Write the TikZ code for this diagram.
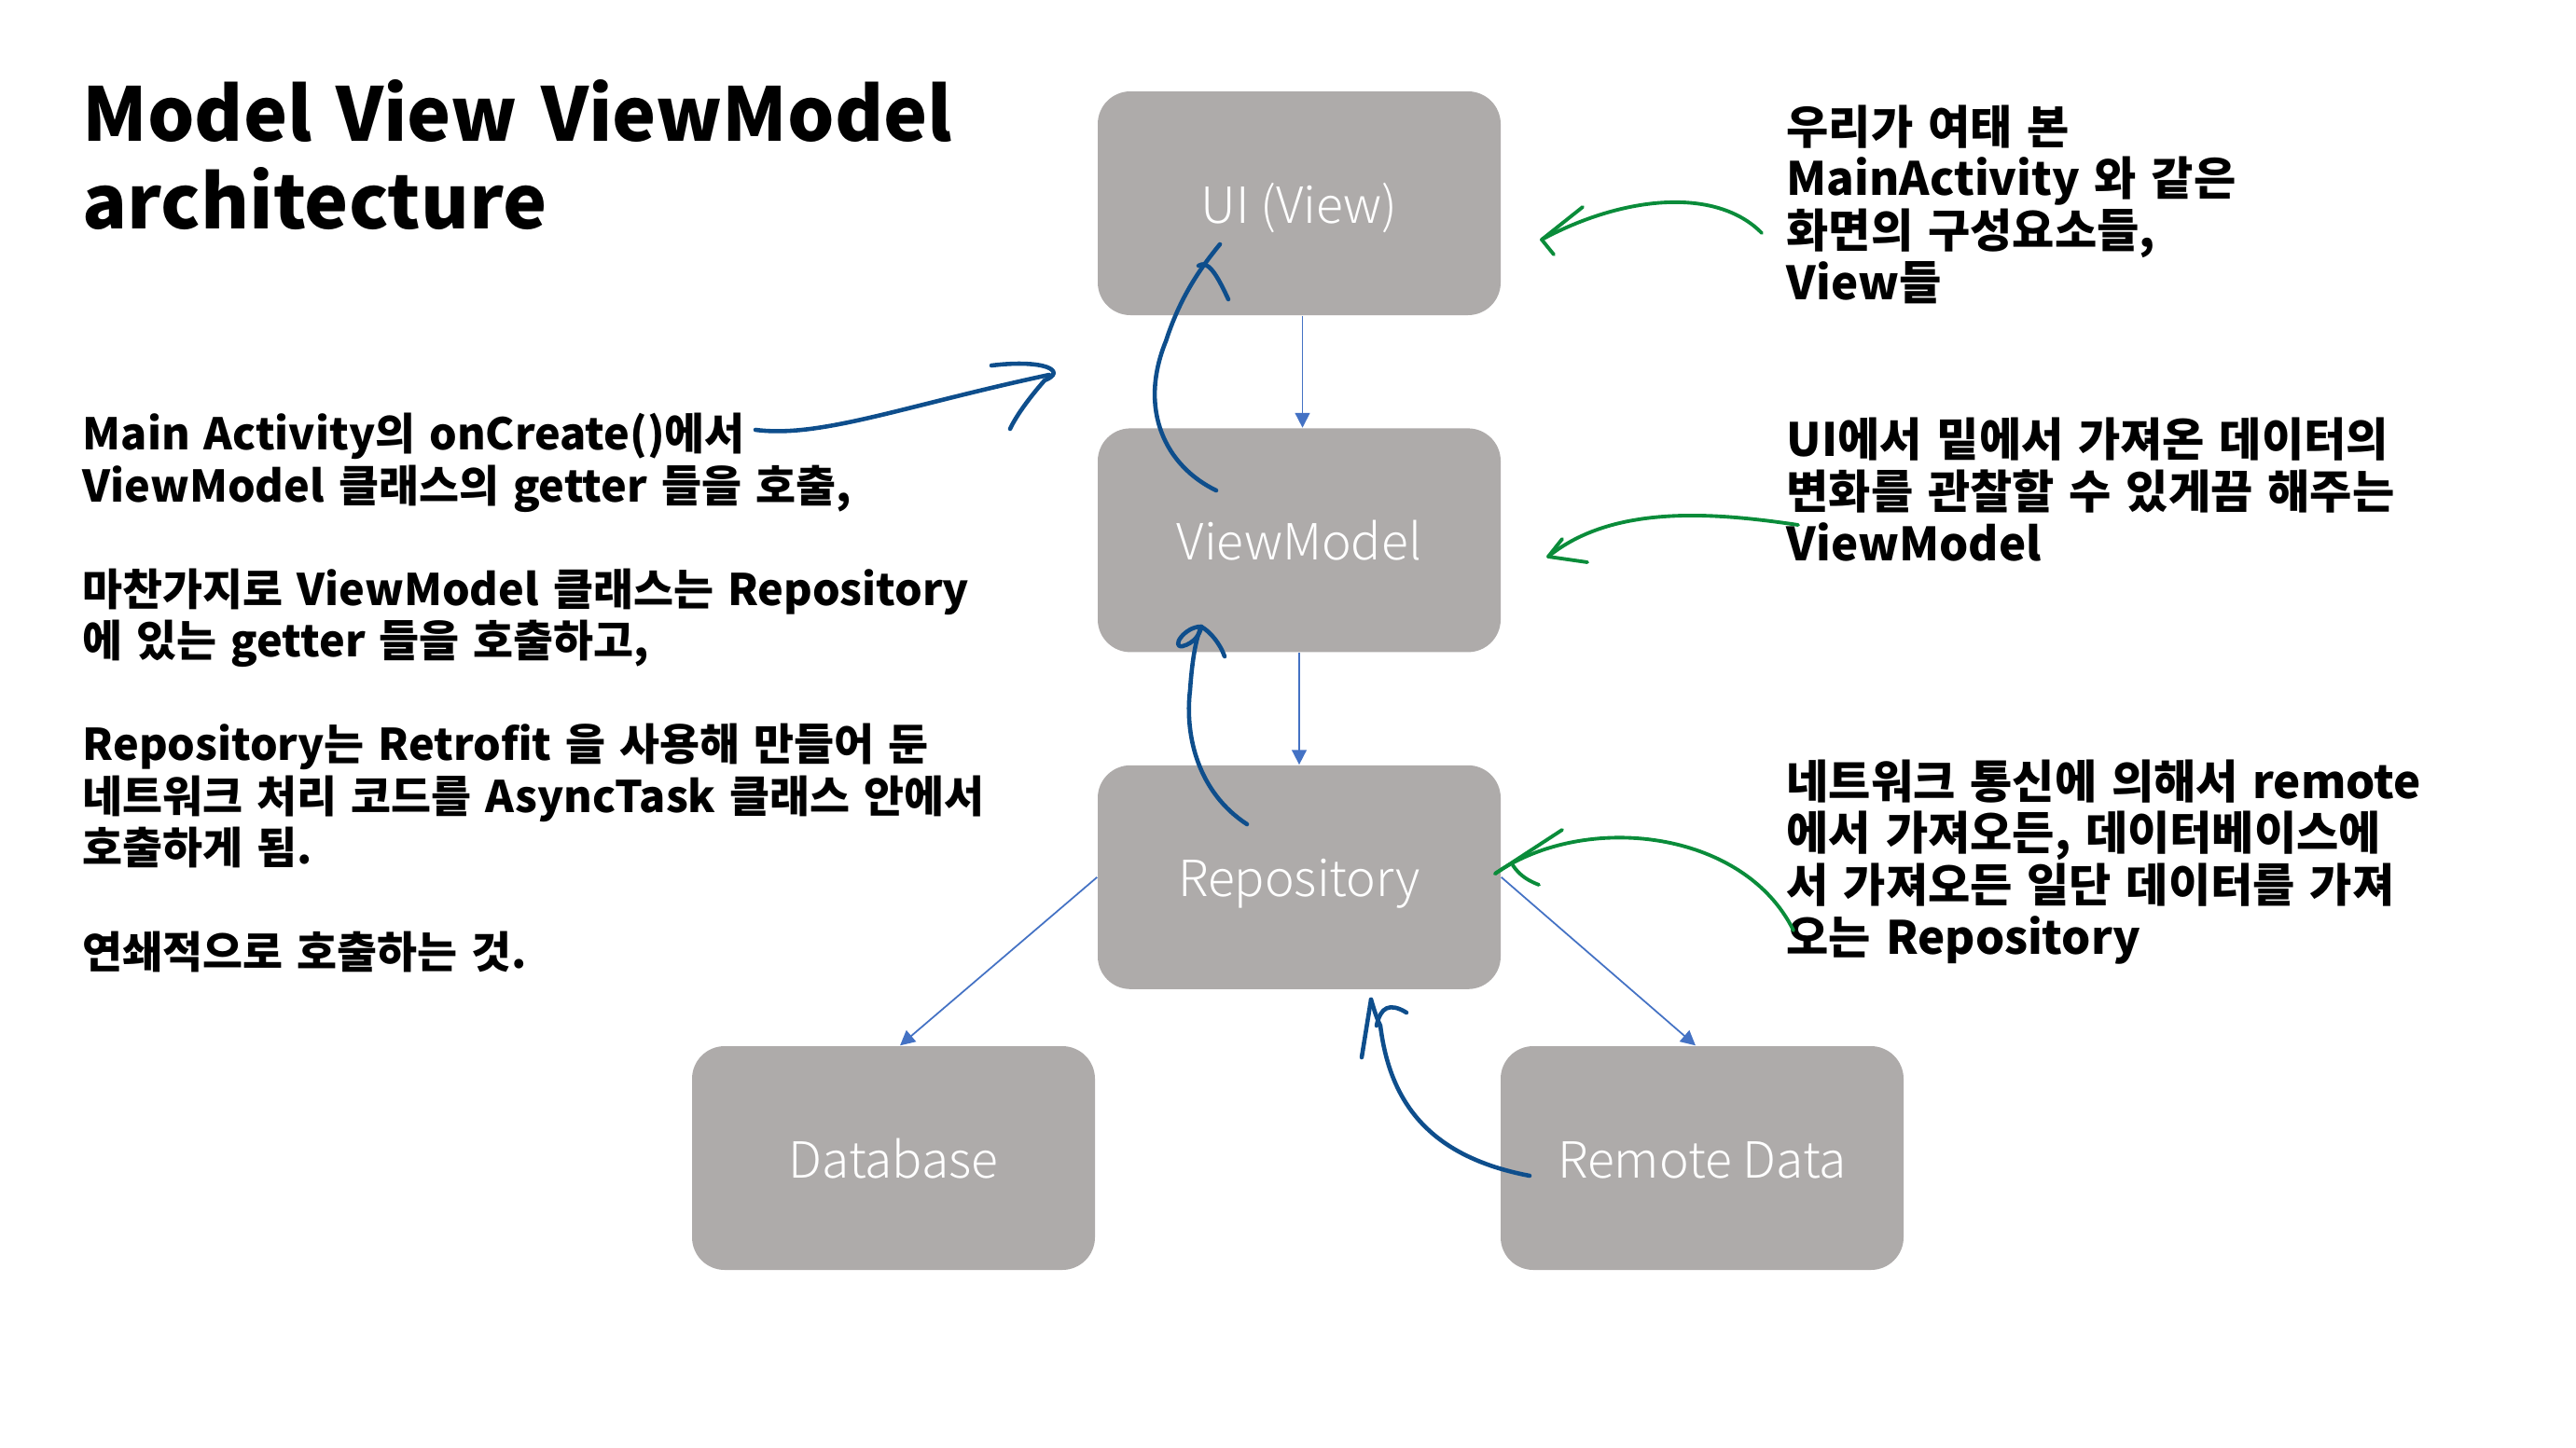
\documentclass[tikz,border=0pt]{standalone}
\usepackage{fontspec}
\usepackage{xcolor}
\usepackage{tikz}
\usetikzlibrary{
	arrows.meta,
	positioning
}
\newfontfamily\krfont{Noto Sans CJK KR}[WordSpace=1.4]
\newfontfamily\krlight{Noto Sans CJK KR Light}
\definecolor{BoxGray}{RGB}{174,171,170}
\definecolor{LinkBlue}{RGB}{68,114,196}
\definecolor{PenBlue}{RGB}{14,78,140}
\definecolor{PenGreen}{RGB}{10,140,58}

\begin{document}
\begin{tikzpicture}[x=1cm,y=-1cm,
	box/.style={fill=BoxGray,rounded corners=0.35cm,minimum width=4.32cm,minimum height=2.40cm,text height=15pt,text depth=3pt,text=white,font=\krlight\fontsize{15.2}{18}\selectfont},
	link/.style={LinkBlue,line width=0.5pt,-{Triangle[width=4.5pt,length=4.5pt]}},
	pen/.style={PenBlue,line width=1.3pt,line cap=round,line join=round},
	greenpen/.style={PenGreen,line width=1.1pt,line cap=round,line join=round},
	note/.style={anchor=base west,align=left,inner sep=0pt,font=\krfont\bfseries\fontsize{14}{15.8}\selectfont}]
		\useasboundingbox (0,0) rectangle (27.62,15.53);
		
		% 제목 (마지막 줄 기준선)
		\node[anchor=base west,align=left,inner sep=0pt,font=\krfont\bfseries\fontsize{22.6}{26.7}\selectfont] (title) at (0.88,2.45) {Model View ViewModel\\architecture};
		
		% 박스
		\node[box] (ui) at (13.93,2.18) {UI (View)};
		\node[box,below=1.2cm of ui] (vm) {ViewModel};
		\node[box,below=1.2cm of vm] (repo) {Repository};
		\node[box] (db) at (9.58,12.42) {Database};
		\node[box] (remote) at (18.25,12.42) {Remote Data};
		
		% 연결선
		\draw[link] ([xshift=1pt]ui.south) -- ([xshift=1pt]vm.north);
		\draw[link] (vm.south) -- (repo.north);
		\draw[link] (repo.west) -- ([xshift=2pt]db.north);
		\draw[link] (repo.east) -- ([xshift=-2pt]remote.north);
		
		% 설명 글
		\node[note,font=\krfont\bfseries\fontsize{13.3}{15.8}\selectfont] (leftnote) at (0.88,10.38) {Main Activity의 onCreate()에서\\ViewModel 클래스의 getter 들을 호출,\\[15.8pt]마찬가지로 ViewModel 클래스는 Repository\\에 있는 getter 들을 호출하고,\\[15.8pt]Repository는 Retrofit 을 사용해 만들어 둔\\네트워크 처리 코드를 AsyncTask 클래스 안에서\\호출하게 됨.\\[15.8pt]연쇄적으로 호출하는 것.};
		\node[note] (uinote) at (19.15,3.21) {우리가 여태 본\\MainActivity 와 같은\\화면의 구성요소들,\\View들};
		\node[note] (vmnote) at (19.15,6.01) {UI에서 밑에서 가져온 데이터의\\변화를 관찰할 수 있게끔 해주는\\ViewModel};
		\node[note] (reponote) at (19.15,10.23) {네트워크 통신에 의해서 remote\\에서 가져오든, 데이터베이스에\\서 가져오든 일단 데이터를 가져\\오는 Repository};
		
		% 파란 손글씨 화살표
		\coordinate (callStart) at (8.10,4.61);
		\coordinate (callTip) at (11.25,4.02);
		\draw[pen] (callStart) .. controls (8.8,4.70) and (9.7,4.35) .. (callTip);
		\draw[pen] (10.63,3.92) .. controls (11.2,3.85) and (11.45,3.98) .. (11.2,4.08) .. controls (11.05,4.25) and (10.9,4.45) .. (10.83,4.60);
		
		\draw[pen] (13.04,5.26) .. controls (12.5,5.0) and (12.2,4.4) .. (12.5,3.66) .. controls (12.65,3.2) and (12.85,2.9) .. (13.08,2.62);
		\draw[pen] (12.85,2.85) .. controls (12.95,2.78) and (13.05,2.95) .. (13.17,3.21);
		
		\draw[pen] (13.37,8.84) .. controls (12.85,8.5) and (12.7,7.9) .. (12.76,7.4) .. controls (12.78,7.1) and (12.82,6.85) .. (12.88,6.72);
		\draw[pen] (12.88,6.72) .. controls (12.7,6.72) and (12.55,6.95) .. (12.68,6.93) .. controls (12.8,6.9) and (12.87,6.8) .. (12.88,6.72) .. controls (12.98,6.78) and (13.08,6.9) .. (13.13,7.04);
		
		\draw[pen] (16.40,12.61) .. controls (15.3,12.4) and (14.9,11.8) .. (14.80,11.0) .. controls (14.75,10.9) and (14.72,10.78) .. (14.70,10.72);
		\draw[pen] (14.60,11.34) -- (14.70,10.72);
		\draw[pen] (14.76,11.0) .. controls (14.8,10.8) and (14.9,10.75) .. (15.08,10.86);
		
		% 초록 손글씨 화살표
		\draw[greenpen] (18.89,2.50) .. controls (18.4,2.0) and (17.4,2.1) .. (16.53,2.57);
		\draw[greenpen] (16.97,2.22) -- (16.53,2.57) -- (16.66,2.73);
		
		\draw[greenpen] (19.28,5.63) .. controls (18.4,5.5) and (17.3,5.4) .. (16.60,5.97);
		\draw[greenpen] (16.75,5.78) -- (16.60,5.97) -- (17.02,6.03);
		
		\draw[greenpen] (19.23,9.98) .. controls (18.7,8.9) and (17.0,8.7) .. (16.03,9.37);
		\draw[greenpen] (16.75,8.90) -- (16.03,9.37);
		\draw[greenpen] (16.22,9.28) .. controls (16.3,9.4) and (16.4,9.45) .. (16.50,9.49);
	\end{tikzpicture}
\end{document}
